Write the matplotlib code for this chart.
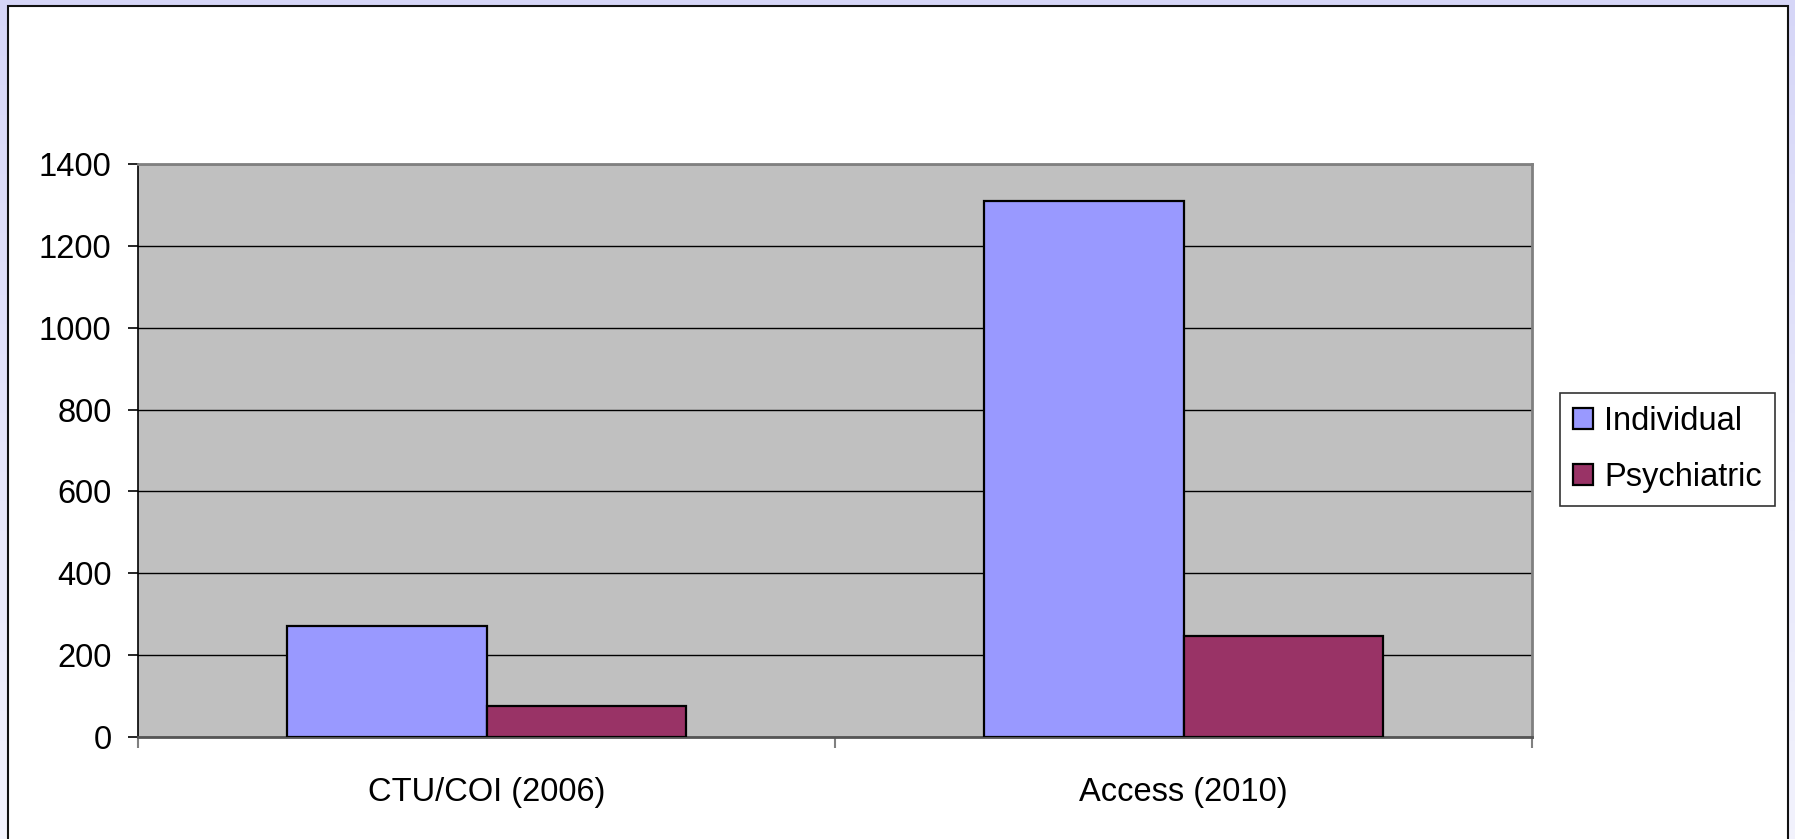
import numpy as np
import matplotlib.pyplot as plt
from matplotlib.patches import Rectangle

plt.rcParams['font.family'] = ['Liberation Sans', 'DejaVu Sans']

# Data
categories = ["CTU/COI (2006)", "Access (2010)"]
individual = [272, 1310]
psychiatric = [75, 247]
series_names = ["Individual", "Psychiatric"]
colors = ["#9999FF", "#993366"]

W, H = 1795, 839
fs = 23.5
fig = plt.figure(figsize=(W / 100, H / 100), dpi=100)

# Lavender gradient behind the chart
bg = fig.add_axes([0, 0, 1, 1], zorder=-10)
grad = np.linspace(0, 1, 256).reshape(-1, 1)
top = np.array([0.84, 0.84, 0.97])
bot = np.array([0.95, 0.95, 0.99])
img = top + (bot - top) * grad[..., None]
bg.imshow(img, aspect="auto", extent=[0, 1, 0, 1], origin="upper")
bg.axis("off")

# White chart area with a black frame
fig.patches.append(Rectangle((8 / W, -0.01), (1788 - 8) / W, 1.01 - 6 / H,
                             transform=fig.transFigure, facecolor="white",
                             edgecolor="#111111", linewidth=1.5, zorder=-5))

ax = fig.add_axes([138 / W, (H - 737) / H, (1532 - 138) / W, (737 - 164) / H])
ax.set_facecolor("#C0C0C0")

x = np.arange(len(categories))
bw = 1 / 3.5
ax.bar(x - bw / 2, individual, bw, color=colors[0], edgecolor="black",
       linewidth=1.6, label=series_names[0], zorder=3)
ax.bar(x + bw / 2, psychiatric, bw, color=colors[1], edgecolor="black",
       linewidth=1.6, label=series_names[1], zorder=3)

ax.set_xlim(-0.5, 1.5)
ax.set_ylim(0, 1400)
ax.set_yticks(np.arange(0, 1401, 200))
ax.yaxis.grid(True, color="black", linewidth=1.0, zorder=1)
ax.set_axisbelow(True)

# Ticks at category boundaries, labels at centres
ax.set_xticks([-0.5, 0.5, 1.5])
ax.set_xticklabels([])
ax.set_xticks(x, minor=True)
ax.set_xticklabels(categories, minor=True)
ax.tick_params(axis="x", which="major", length=8, width=1.5, color="#808080")
ax.tick_params(axis="x", which="minor", length=0, pad=29, labelsize=fs)
ax.tick_params(axis="y", length=7, width=1.2, color="black", pad=12,
               labelsize=fs)

for side in ["top", "right", "bottom"]:
    ax.spines[side].set_color("#808080")
    ax.spines[side].set_linewidth(2)
ax.spines["bottom"].set_color("#555555")
ax.spines["left"].set_color("black")
ax.spines["left"].set_linewidth(1.2)

leg = fig.legend(loc="center left", bbox_to_anchor=(1560 / W, (H - 449.5) / H),
                 fontsize=fs, frameon=True, fancybox=False,
                 edgecolor="#333333", framealpha=1,
                 handlelength=0.6, handleheight=0.6, handletextpad=0.35,
                 labelspacing=0.75, borderpad=0.4, borderaxespad=0)
leg.get_frame().set_linewidth(1.2)

fig.savefig("out.png", dpi=100)
